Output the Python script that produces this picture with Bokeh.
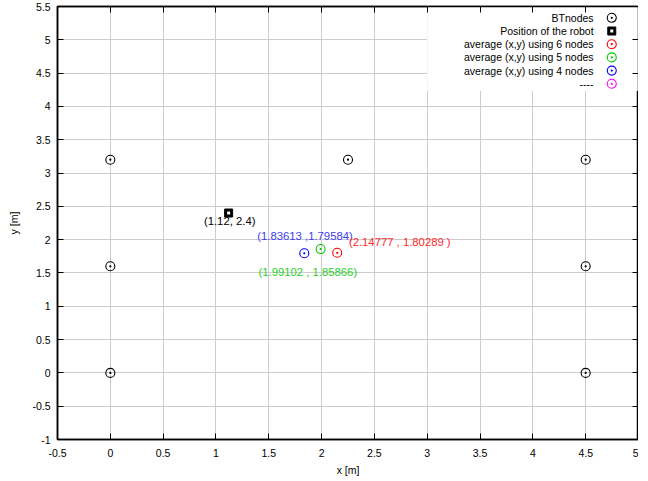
from bokeh.plotting import figure
from bokeh.models import (LinearAxis, FixedTicker, Label, BoxAnnotation, Range1d)
from bokeh.embed import file_html
from bokeh.resources import INLINE

# ---------------- data ----------------
bt_x = [0, 0, 0, 2.25, 4.5, 4.5, 4.5]
bt_y = [0, 1.6, 3.2, 3.2, 3.2, 1.6, 0]

robot_x = [1.12]
robot_y = [2.4]

avg6_x = [2.14777]
avg6_y = [1.80289]
avg5_x = [1.99102]
avg5_y = [1.85866]
avg4_x = [1.83613]
avg4_y = [1.79584]

legend_labels = ["BTnodes", "Position of the robot", "average (x,y) using 6 nodes",
                 "average (x,y) using 5 nodes", "average (x,y) using 4 nodes", "----"]

note_texts = ["(1.12, 2.4)", "(1.83613 ,1.79584)", "(2.14777 , 1.80289 )", "(1.99102 , 1.85866)"]
note_x = [1.13, 1.843, 2.74, 1.87]
note_y = [2.28, 2.06, 1.96, 1.52]
note_colors = ["#000000", "#3c3cf0", "#ff2a2a", "#2ad02a"]

xticks = [-0.5, 0, 0.5, 1, 1.5, 2, 2.5, 3, 3.5, 4, 4.5, 5]
xtick_labels = ["-0.5", "0", "0.5", "1", "1.5", "2", "2.5", "3", "3.5", "4", "4.5", "5"]
yticks = [-1, -0.5, 0, 0.5, 1, 1.5, 2, 2.5, 3, 3.5, 4, 4.5, 5, 5.5]
ytick_labels = ["-1", "-0.5", "0", "0.5", "1", "1.5", "2", "2.5", "3", "3.5", "4", "4.5", "5", "5.5"]

# ---------------- style ----------------
FONT = "Liberation Sans"
TICK_FS = "10.5px"
RED = "#ff0000"
GREEN = "#00c800"
BLUE = "#0000ff"
MAGENTA = "#ff00ff"

X0, X1 = -0.5, 5
Y0, Y1 = -1, 5.5

p = figure(width=638, height=478, x_range=Range1d(X0, X1), y_range=Range1d(Y0, Y1),
           output_backend="svg", toolbar_location=None,
           min_border_left=57, min_border_right=0, min_border_top=6, min_border_bottom=33)
p.background_fill_color = "white"
p.border_fill_color = "white"
p.outline_line_color = "black"
p.outline_line_width = 1.5

def style_axis(ax, labels_on=True):
    ax.major_tick_in = 6
    ax.major_tick_out = 0
    ax.minor_tick_line_color = None
    ax.axis_line_color = "black"
    ax.axis_line_width = 1.5
    ax.major_tick_line_color = "black"
    ax.major_tick_line_width = 1
    ax.major_label_text_font = FONT
    ax.major_label_text_font_size = TICK_FS if labels_on else "0px"
    ax.major_label_text_color = "black"
    ax.axis_label_text_font = FONT
    ax.axis_label_text_font_size = TICK_FS
    ax.axis_label_text_font_style = "normal"
    ax.axis_label_text_color = "black"

xt = FixedTicker(ticks=xticks)
yt = FixedTicker(ticks=yticks)
xover = {t: l for t, l in zip(xticks, xtick_labels)}
yover = {t: l for t, l in zip(yticks, ytick_labels)}

xa = p.xaxis[0]
xa.ticker = xt
xa.major_label_overrides = xover
xa.axis_label = "x [m]"
xa.major_label_standoff = 9
xa.axis_label_standoff = 4
style_axis(xa)

ya = p.yaxis[0]
ya.ticker = yt
ya.major_label_overrides = yover
ya.axis_label = "y [m]"
ya.major_label_standoff = 7
ya.axis_label_standoff = 9
style_axis(ya)

top = LinearAxis(ticker=xt, major_label_standoff=0, axis_label_standoff=0,
                 major_label_overrides={t: "" for t in xticks})
style_axis(top, labels_on=False)
p.add_layout(top, "above")
right = LinearAxis(ticker=yt, major_label_standoff=0, axis_label_standoff=0,
                   major_label_overrides={t: "" for t in yticks})
style_axis(right, labels_on=False)
p.add_layout(right, "right")

p.xgrid.ticker = xt
p.ygrid.ticker = yt
for g in (p.xgrid[0], p.ygrid[0]):
    g.grid_line_color = "#cccccc"
    g.grid_line_width = 1

# legend background box (opaque key area)
LEG_LEFT, LEG_BOTTOM = 3.0, 4.23
p.add_layout(BoxAnnotation(left=LEG_LEFT, right=X1, bottom=LEG_BOTTOM, top=Y1,
                           fill_color="white", fill_alpha=1, line_color=None, level="underlay"))

# ---------------- marks ----------------
MS = 9
p.scatter(bt_x, bt_y, marker="circle_dot", size=MS, fill_color=None, line_color="black", line_width=1.1)
p.scatter(robot_x, robot_y, marker="square", size=8, fill_color="black", line_color="black")
p.scatter(robot_x, robot_y, marker="square", size=3, fill_color="white", line_color=None)
p.scatter(avg6_x, avg6_y, marker="circle_dot", size=MS, fill_color=None, line_color=RED, line_width=1.1)
p.scatter(avg5_x, avg5_y, marker="circle_dot", size=MS, fill_color=None, line_color=GREEN, line_width=1.1)
p.scatter(avg4_x, avg4_y, marker="circle_dot", size=MS, fill_color=None, line_color=BLUE, line_width=1.1)

for t, x, y, c in zip(note_texts, note_x, note_y, note_colors):
    p.add_layout(Label(x=x, y=y, text=t, text_color=c, text_font=FONT, text_font_size="11.3px",
                       text_align="center", text_baseline="middle"))

# ---------------- manual key (text right-aligned, symbol to the right) ----------------
KEY_TEXT_X = 4.575
KEY_SYM_X = 4.747
KEY_TOP = 5.33
KEY_STEP = 0.198
key_colors = ["black", "black", RED, GREEN, BLUE, MAGENTA]
key_y = [KEY_TOP - i * KEY_STEP for i in range(len(legend_labels))]
for lab, yy in zip(legend_labels, key_y):
    p.add_layout(Label(x=KEY_TEXT_X, y=yy, text=lab, text_color="black", text_font=FONT,
                       text_font_size="10.5px", text_align="right", text_baseline="middle"))
circ_idx = [0, 2, 3, 4, 5]
p.scatter([KEY_SYM_X] * len(circ_idx), [key_y[i] for i in circ_idx], marker="circle_dot", size=MS,
          fill_color=None, line_color=[key_colors[i] for i in circ_idx], line_width=1.1)
p.scatter([KEY_SYM_X], [key_y[1]], marker="square", size=8, fill_color="black", line_color="black")
p.scatter([KEY_SYM_X], [key_y[1]], marker="square", size=3, fill_color="white", line_color=None)

open("out.html", "w").write(file_html(p, INLINE))
